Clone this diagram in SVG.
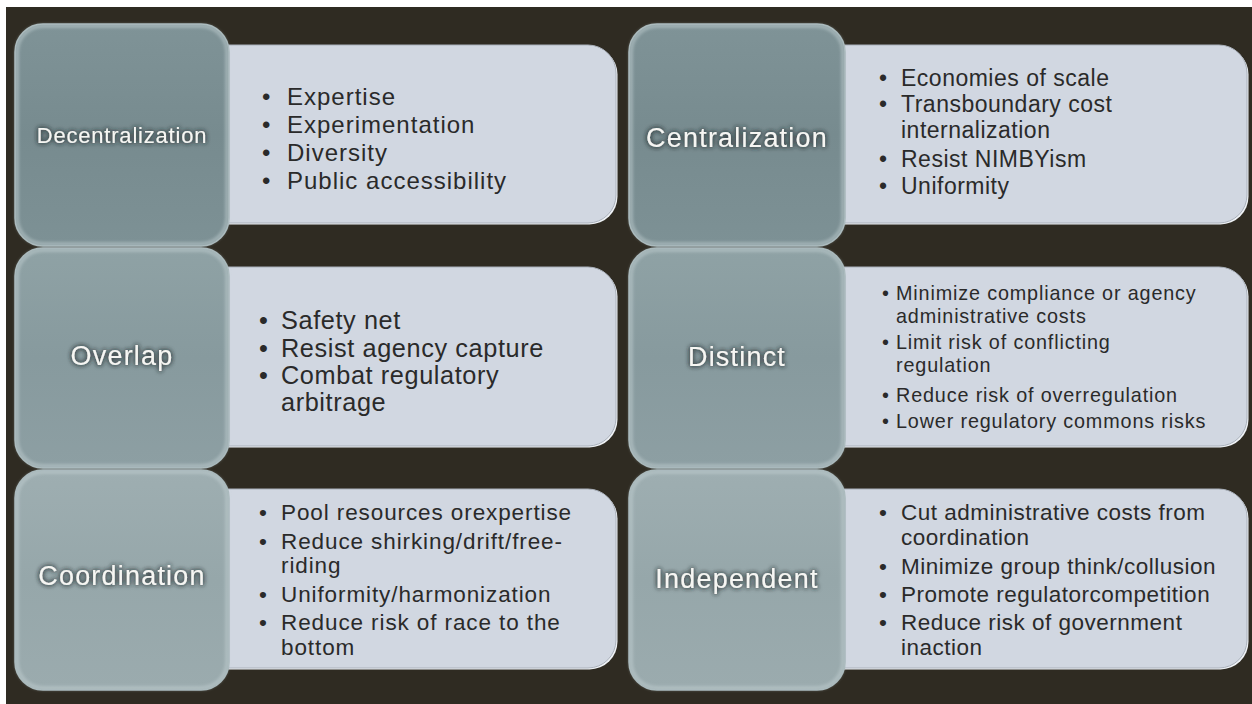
<svg xmlns="http://www.w3.org/2000/svg" width="1252" height="704" viewBox="0 0 1252 704">
  <defs>
    <style>
      .bg { fill: #2f2b22; }
      .sq { stroke: #a3b3b6; stroke-width: 1.5; }
      .rim { fill: none; stroke: #c4d1d4; stroke-width: 4; opacity: 0.5; filter: url(#soft); }
      .box { fill: #d1d7e1; stroke: #aab1bb; stroke-width: 1; }
      .boxhi { fill: #eef1f5; }
      .lbl { font-family: "Liberation Sans", Arial, sans-serif; fill: #f6f6f3; text-anchor: middle; filter: url(#glow); }
      .txt { font-family: "Liberation Sans", Arial, sans-serif; fill: #2a2a2a; }
    </style>
    <linearGradient id="row1" x1="0" y1="0" x2="0" y2="1">
      <stop offset="0" stop-color="#7f9397"/>
      <stop offset="0.5" stop-color="#778b8f"/>
      <stop offset="1" stop-color="#7d9195"/>
    </linearGradient>
    <linearGradient id="row2" x1="0" y1="0" x2="0" y2="1">
      <stop offset="0" stop-color="#8fa2a5"/>
      <stop offset="0.5" stop-color="#879a9e"/>
      <stop offset="1" stop-color="#8d9fa3"/>
    </linearGradient>
    <linearGradient id="row3" x1="0" y1="0" x2="0" y2="1">
      <stop offset="0" stop-color="#9eaeb1"/>
      <stop offset="0.5" stop-color="#96a7aa"/>
      <stop offset="1" stop-color="#9babae"/>
    </linearGradient>
    <filter id="soft" x="-10%" y="-10%" width="120%" height="120%">
      <feGaussianBlur stdDeviation="1.5"/>
    </filter>
    <filter id="glow" x="-20%" y="-60%" width="140%" height="220%">
      <feGaussianBlur in="SourceAlpha" stdDeviation="2.5" result="blur"/>
      <feFlood flood-color="#2b3335" flood-opacity="0.85"/>
      <feComposite in2="blur" operator="in" result="halo"/>
      <feMerge>
        <feMergeNode in="halo"/>
        <feMergeNode in="halo"/>
        <feMergeNode in="SourceGraphic"/>
      </feMerge>
    </filter>
  </defs>

  <!-- page -->
  <rect x="0" y="0" width="1252" height="704" fill="#ffffff"/>
  <rect class="bg" x="6" y="7" width="1246" height="697"/>

  <!-- left column -->
  <g id="decentralization">
    <rect class="boxhi" x="201.5" y="46.5" width="416" height="178" rx="28"/>
    <rect class="box" x="200" y="45" width="416" height="178" rx="28"/>
    <rect class="sq" x="15" y="24" width="214" height="222" rx="28" fill="url(#row1)"/>
    <rect class="rim" x="17" y="26" width="210" height="218" rx="26"/>
    <text class="lbl" x="122" y="143" font-size="22" letter-spacing="0.8">Decentralization</text>
    <g class="txt" font-size="24" letter-spacing="1">
      <text x="262" y="105">•</text><text x="287" y="105">Expertise</text>
      <text x="262" y="133">•</text><text x="287" y="133">Experimentation</text>
      <text x="262" y="161">•</text><text x="287" y="161">Diversity</text>
      <text x="262" y="189">•</text><text x="287" y="189">Public accessibility</text>
    </g>
  </g>

  <g id="overlap">
    <rect class="boxhi" x="201.5" y="268.5" width="416" height="179" rx="28"/>
    <rect class="box" x="200" y="267" width="416" height="179" rx="28"/>
    <rect class="sq" x="15" y="248" width="214" height="220" rx="28" fill="url(#row2)"/>
    <rect class="rim" x="17" y="250" width="210" height="216" rx="26"/>
    <text class="lbl" x="122" y="365" font-size="27" letter-spacing="1.2">Overlap</text>
    <g class="txt" font-size="25.3" letter-spacing="0.6">
      <text x="259" y="329">•</text><text x="281" y="329">Safety net</text>
      <text x="259" y="357">•</text><text x="281" y="357">Resist agency capture</text>
      <text x="259" y="384">•</text><text x="281" y="384">Combat regulatory</text>
      <text x="281" y="411">arbitrage</text>
    </g>
  </g>

  <g id="coordination">
    <rect class="boxhi" x="201.5" y="490.5" width="416" height="179" rx="28"/>
    <rect class="box" x="200" y="489" width="416" height="179" rx="28"/>
    <rect class="sq" x="15" y="470" width="214" height="220" rx="28" fill="url(#row3)"/>
    <rect class="rim" x="17" y="472" width="210" height="216" rx="26"/>
    <text class="lbl" x="122" y="585" font-size="27" letter-spacing="1.2">Coordination</text>
    <g class="txt" font-size="22.5" letter-spacing="0.9">
      <text x="259" y="520">•</text><text x="281" y="520">Pool resources orexpertise</text>
      <text x="259" y="549">•</text><text x="281" y="549">Reduce shirking/drift/free-</text>
      <text x="281" y="573">riding</text>
      <text x="259" y="602">•</text><text x="281" y="602">Uniformity/harmonization</text>
      <text x="259" y="630">•</text><text x="281" y="630">Reduce risk of race to the</text>
      <text x="281" y="655">bottom</text>
    </g>
  </g>

  <!-- right column -->
  <g id="centralization">
    <rect class="boxhi" x="816.5" y="46.5" width="432" height="178" rx="28"/>
    <rect class="box" x="815" y="45" width="432" height="178" rx="28"/>
    <rect class="sq" x="629" y="24" width="216" height="222" rx="28" fill="url(#row1)"/>
    <rect class="rim" x="631" y="26" width="212" height="218" rx="26"/>
    <text class="lbl" x="737" y="147" font-size="27" letter-spacing="1.2">Centralization</text>
    <g class="txt" font-size="23" letter-spacing="0.5">
      <text x="879" y="86">•</text><text x="901" y="86">Economies of scale</text>
      <text x="879" y="112">•</text><text x="901" y="112">Transboundary cost</text>
      <text x="901" y="138">internalization</text>
      <text x="879" y="167">•</text><text x="901" y="167">Resist NIMBYism</text>
      <text x="879" y="194">•</text><text x="901" y="194">Uniformity</text>
    </g>
  </g>

  <g id="distinct">
    <rect class="boxhi" x="816.5" y="268.5" width="432" height="179" rx="28"/>
    <rect class="box" x="815" y="267" width="432" height="179" rx="28"/>
    <rect class="sq" x="629" y="248" width="216" height="220" rx="28" fill="url(#row2)"/>
    <rect class="rim" x="631" y="250" width="212" height="216" rx="26"/>
    <text class="lbl" x="737" y="366" font-size="27" letter-spacing="1.2">Distinct</text>
    <g class="txt" font-size="19.8" letter-spacing="0.85">
      <text x="882" y="300">•</text><text x="896" y="300">Minimize compliance or agency</text>
      <text x="896" y="323">administrative costs</text>
      <text x="882" y="349">•</text><text x="896" y="349">Limit risk of conflicting</text>
      <text x="896" y="372">regulation</text>
      <text x="882" y="402">•</text><text x="896" y="402">Reduce risk of overregulation</text>
      <text x="882" y="428">•</text><text x="896" y="428">Lower regulatory commons risks</text>
    </g>
  </g>

  <g id="independent">
    <rect class="boxhi" x="816.5" y="490.5" width="432" height="179" rx="28"/>
    <rect class="box" x="815" y="489" width="432" height="179" rx="28"/>
    <rect class="sq" x="629" y="470" width="216" height="220" rx="28" fill="url(#row3)"/>
    <rect class="rim" x="631" y="472" width="212" height="216" rx="26"/>
    <text class="lbl" x="737" y="588" font-size="27" letter-spacing="1.2">Independent</text>
    <g class="txt" font-size="22.5" letter-spacing="0.5">
      <text x="879" y="520">•</text><text x="901" y="520">Cut administrative costs from</text>
      <text x="901" y="545">coordination</text>
      <text x="879" y="574">•</text><text x="901" y="574">Minimize group think/collusion</text>
      <text x="879" y="602">•</text><text x="901" y="602">Promote regulatorcompetition</text>
      <text x="879" y="630">•</text><text x="901" y="630">Reduce risk of government</text>
      <text x="901" y="655">inaction</text>
    </g>
  </g>

  <g id="connectors"/>
</svg>
